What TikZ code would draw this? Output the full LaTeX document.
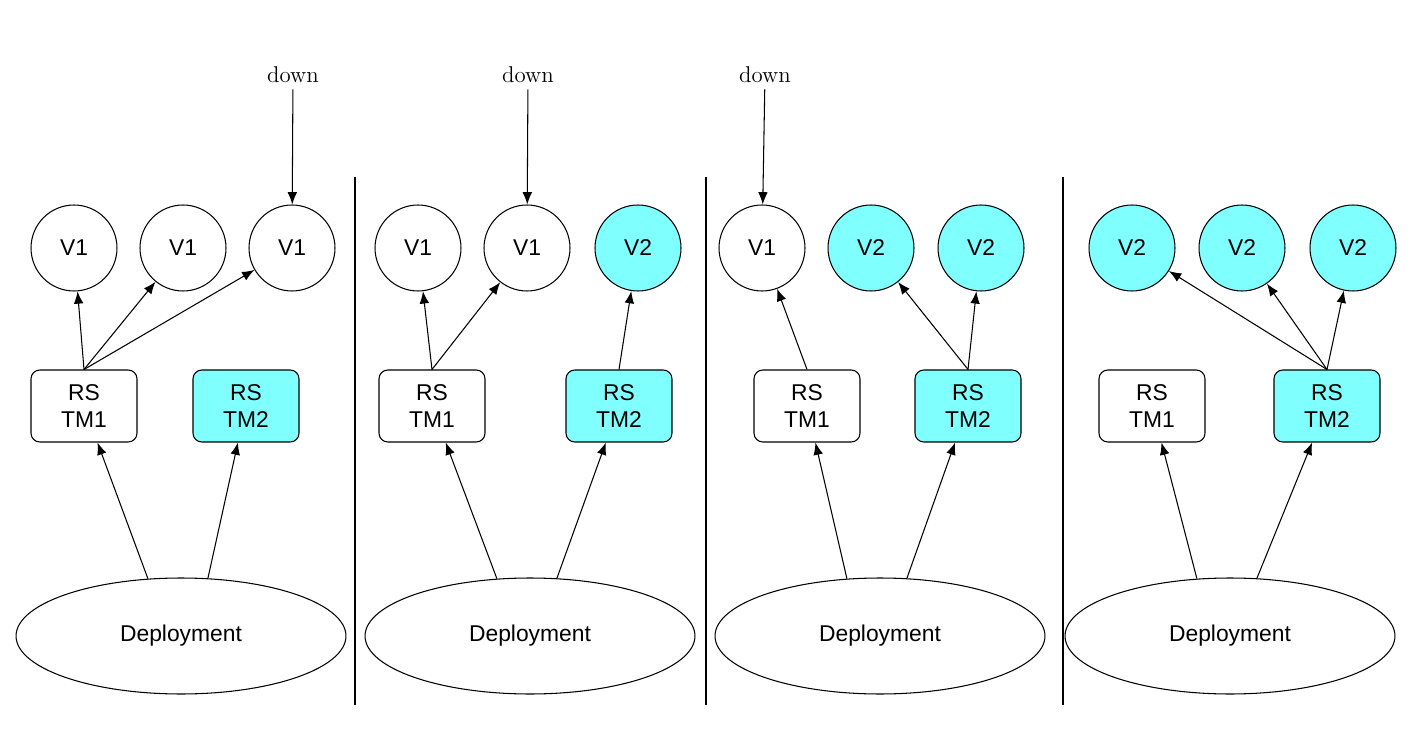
\documentclass[tikz,border=0pt]{standalone}
\usepackage{fontspec}
\newfontfamily\sansf{Liberation Sans}
\usetikzlibrary{shapes.geometric,arrows.meta}
\definecolor{newver}{HTML}{80FFFF}
\begin{document}
\begin{tikzpicture}[x=0.02cm,y=-0.02cm,>={Latex[length=7pt,width=5.5pt]},line width=0.6pt,
    pod/.style={circle, draw, minimum size=1.72cm, font=\sansf\fontsize{13}{15}\selectfont},
    rs/.style={rectangle, rounded corners=5pt, draw, minimum width=2.12cm, minimum height=1.44cm, align=center, font=\sansf\fontsize{13}{15}\selectfont},
    dep/.style={ellipse, draw, minimum width=6.6cm, minimum height=2.32cm, font=\sansf\fontsize{13}{15}\selectfont},
    lbl/.style={font=\fontsize{13}{15}\selectfont},
    new/.style={fill=newver}]
    \useasboundingbox (0,0) rectangle (1414,753);
    % dividers
    \foreach \x in {355,706,1063} \draw (\x,177) -- (\x,705);
    % panel 1
    \node (a1) [pod] at (74,248) {V1};
    \node (a2) [pod] at (183,248) {V1};
    \node (a3) [pod] at (292,248) {V1};
    \node (ars1) [rs] at (84,406) {RS\\TM1};
    \node (ars2) [rs, new] at (246,406) {RS\\TM2};
    \node (adep) [dep] at (181,636) {Deployment};
    \node (adown) [lbl] at (293,75) {down};
    \draw [->] (adown) -- (a3);
    \draw [->] (ars1.north) -- (a1);
    \draw [->] (ars1.north) -- (a2);
    \draw [->] (ars1.north) -- (a3);
    \draw [->] (adep.120) -- (ars1);
    \draw [->] (adep.65) -- (ars2);
    % panel 2
    \node (b1) [pod] at (418,248) {V1};
    \node (b2) [pod] at (527,248) {V1};
    \node (b3) [pod, new] at (638,248) {V2};
    \node (brs1) [rs] at (432,406) {RS\\TM1};
    \node (brs2) [rs, new] at (619,406) {RS\\TM2};
    \node (bdep) [dep] at (530,636) {Deployment};
    \node (bdown) [lbl] at (528,75) {down};
    \draw [->] (bdown) -- (b2);
    \draw [->] (brs1.north) -- (b1);
    \draw [->] (brs1.north) -- (b2);
    \draw [->] (brs2.north) -- (b3);
    \draw [->] (bdep.120) -- (brs1);
    \draw [->] (bdep.65) -- (brs2);
    % panel 3
    \node (c1) [pod] at (762,248) {V1};
    \node (c2) [pod, new] at (871,248) {V2};
    \node (c3) [pod, new] at (981,248) {V2};
    \node (crs1) [rs] at (807,406) {RS\\TM1};
    \node (crs2) [rs, new] at (968,406) {RS\\TM2};
    \node (cdep) [dep] at (880,636) {Deployment};
    \node (cdown) [lbl] at (765,75) {down};
    \draw [->] (cdown) -- (c1);
    \draw [->] (crs1.north) -- (c1);
    \draw [->] (crs2.north) -- (c2);
    \draw [->] (crs2.north) -- (c3);
    \draw [->] (cdep.120) -- (crs1);
    \draw [->] (cdep.65) -- (crs2);
    % panel 4
    \node (d1) [pod, new] at (1132,248) {V2};
    \node (d2) [pod, new] at (1242,248) {V2};
    \node (d3) [pod, new] at (1353,248) {V2};
    \node (drs1) [rs] at (1152,406) {RS\\TM1};
    \node (drs2) [rs, new] at (1327,406) {RS\\TM2};
    \node (ddep) [dep] at (1230,636) {Deployment};
    \draw [->] (drs2.north) -- (d1);
    \draw [->] (drs2.north) -- (d2);
    \draw [->] (drs2.north) -- (d3);
    \draw [->] (ddep.120) -- (drs1);
    \draw [->] (ddep.65) -- (drs2);
\end{tikzpicture}
\end{document}
